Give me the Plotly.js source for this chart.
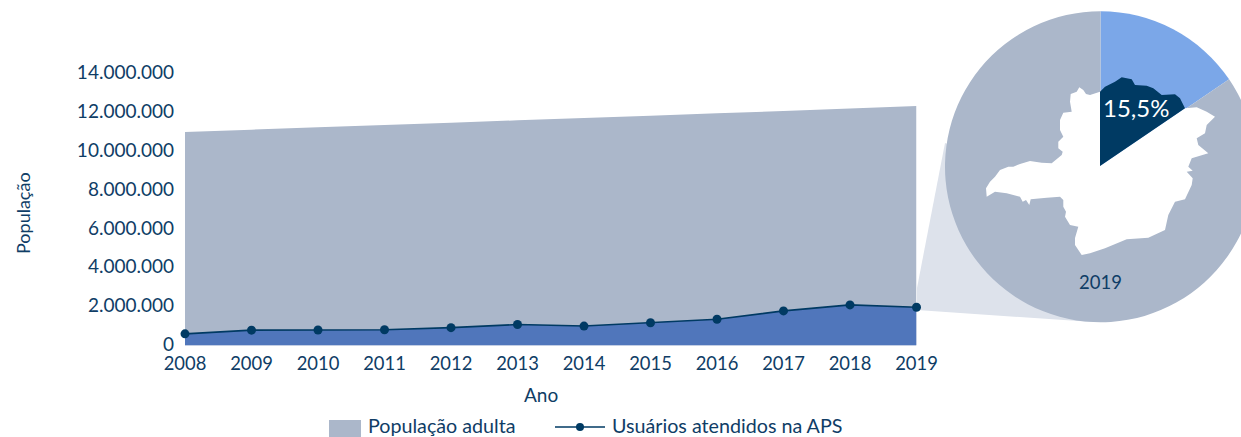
<!DOCTYPE html>
<html><head><meta charset="utf-8">
<script src="https://cdn.plot.ly/plotly-3.0.1.min.js"></script>
<style>html,body{margin:0;padding:0;background:#fff;overflow:hidden;width:1241px;height:437px}</style>
</head><body><div id="c" style="width:1260px;height:437px"></div>
<script>
const anos = [2008,2009,2010,2011,2012,2013,2014,2015,2016,2017,2018,2019];
const populacaoAdulta = [10990000,11110000,11230000,11350000,11470000,11590000,11710000,11830000,11950000,12070000,12200000,12330000];
const usuariosAPS = [600000,790000,800000,810000,920000,1080000,1000000,1170000,1350000,1780000,2090000,1970000];
const yTicks = [0,2000000,4000000,6000000,8000000,10000000,12000000,14000000];
const yTickLabels = ['0','2.000.000','4.000.000','6.000.000','8.000.000','10.000.000','12.000.000','14.000.000'];
const pieLabels = ['Usuários atendidos na APS','População adulta'];
const pieValues = [15.5,84.5];
// map silhouette outlines, in picture pixels
const mapWhite = [[1100,166],[1185,108.3],[1196.7,107.3],[1206.7,111.7],[1215,116.7],[1206.7,125],[1205,133.3],[1196.7,138.3],[1198.3,145],[1208.3,153.3],[1191.7,158.3],[1188.3,166.7],[1192.7,170.7],[1186.7,171.7],[1192.7,178.3],[1191.7,185],[1185,199.3],[1175,201.7],[1168.3,215],[1165,230],[1148.3,237.7],[1126.7,239.3],[1105,248.3],[1090,253.3],[1081.7,255],[1075,245],[1075,238],[1078.3,226.7],[1070,225],[1065,216.7],[1066,211.7],[1063.3,206.7],[1063.3,200],[1060,196.7],[1046.7,197.7],[1030.7,199.3],[1029.3,205],[1026,200],[1022.7,201.7],[1020,196.7],[1006.7,193.3],[995,191.7],[986.7,196.7],[986,188.3],[990,181.7],[995,176.7],[1000,170],[1008.3,166.7],[1013.3,166.7],[1020,164],[1030,161],[1041.7,162.7],[1051.7,163.3],[1061.7,155],[1062.7,151.7],[1058.3,148.3],[1058.3,141.7],[1063.3,136.7],[1060,130],[1060,120],[1063.3,112.7],[1071.7,111.7],[1070,101.7],[1070.7,94],[1076.7,91.7],[1079.3,87.3],[1083.3,90],[1086,94],[1090,95],[1100,91.7]];
const mapDark = [[1100,166],[1100,91.7],[1105,86.7],[1115,81.7],[1121.7,77.3],[1131.7,79.3],[1135,85],[1146.7,85.7],[1153.3,88.3],[1161.7,95],[1175,94.3],[1180,98.3],[1185,108.3]];

const W = 1260, H = 437;
const px = x => x / W, py = y => 1 - y / H;
const pxPath = pts => 'M' + pts.map(p => px(p[0]) + ',' + py(p[1])).join('L') + 'Z';
const DARK = '#0f3d66', NAVY = '#003a63', FONT = 'Lato, sans-serif';

const traces = [
  {x: anos, y: populacaoAdulta, type:'scatter', mode:'none', fill:'tozeroy', fillcolor:'#abb7ca', hoverinfo:'skip', showlegend:false, name:'População adulta'},
  {x: anos, y: usuariosAPS, type:'scatter', mode:'lines+markers', fill:'tozeroy', fillcolor:'#5076bb',
   line:{color:NAVY,width:1.6}, marker:{color:NAVY,size:9}, cliponaxis:false, showlegend:false, name:'Usuários atendidos na APS'},
  {type:'pie', labels: pieLabels, values: pieValues, sort:false, direction:'clockwise', rotation:0, textinfo:'none', hoverinfo:'label+percent',
   marker:{colors:['#7ba7e8','#abb7ca'],line:{width:0}}, showlegend:false,
   domain:{x:[px(945),px(1256)], y:[py(322.5),py(11)]}}
];
const shapes = [
  {type:'path', xref:'paper', yref:'paper', layer:'below', line:{width:0}, fillcolor:'#dde2eb',
   path: pxPath([[917,310],[1093,322],[1100,200],[945,143],[917,288]])},
  {type:'path', xref:'paper', yref:'paper', layer:'above', line:{width:0}, fillcolor:'#ffffff', path: pxPath(mapWhite)},
  {type:'path', xref:'paper', yref:'paper', layer:'above', line:{width:0}, fillcolor:NAVY, path: pxPath(mapDark)},
  {type:'rect', xref:'paper', yref:'paper', layer:'above', line:{width:0}, fillcolor:'#abb7ca', x0:px(329), x1:px(361), y0:py(437), y1:py(420)},
  {type:'line', xref:'paper', yref:'paper', layer:'above', line:{color:NAVY,width:1.6}, x0:px(555), x1:px(605), y0:py(427), y1:py(427)},
  {type:'circle', xref:'paper', yref:'paper', layer:'above', line:{width:0}, fillcolor:NAVY, x0:px(576), x1:px(584), y0:py(431), y1:py(423)}
];
const ann = (text,x,y,size,color,xanchor,extra) => Object.assign({text,x:px(x),y:py(y),xref:'paper',yref:'paper',showarrow:false,xanchor:xanchor||'center',yanchor:'middle',borderpad:0,font:{family:FONT,size,color}},extra||{});
const annotations = [
  ann('15,5%',1136,107,24,'#ffffff'),
  ann('2019',1100,282,18.5,DARK),
  ann('População adulta',367,425.5,19.7,DARK,'left'),
  ann('Usuários atendidos na APS',611,425.5,19.7,DARK,'left'),
  ann('Ano',541,394,19,DARK),
  ann('População',23,213,18,DARK,'center',{textangle:-90})
];
const layout = {
  width:W, height:H, margin:{l:0,r:0,t:0,b:0}, paper_bgcolor:'#fff', plot_bgcolor:'rgba(0,0,0,0)', showlegend:false,
  font:{family:FONT,color:DARK,size:18},
  xaxis:{domain:[px(185),px(916.5)], range:[2008,2019], type:'linear', tickvals:anos, ticktext:anos.map(String), showgrid:false, zeroline:false, showline:false, ticks:'',
         tickfont:{family:FONT,size:18.4,color:DARK}, automargin:false, ticklabelstandoff:5},
  yaxis:{domain:[py(345.5),py(73.5)], range:[0,14000000], tickvals:yTicks, ticktext:yTickLabels, showgrid:false, zeroline:false, showline:false, ticks:'',
         tickfont:{family:FONT,size:19,color:DARK}, automargin:false, ticklabelstandoff:10, ticklabelshift:-1},
  shapes, annotations
};
Plotly.newPlot('c',traces,layout,{displayModeBar:false,staticPlot:true});
</script></body></html>
